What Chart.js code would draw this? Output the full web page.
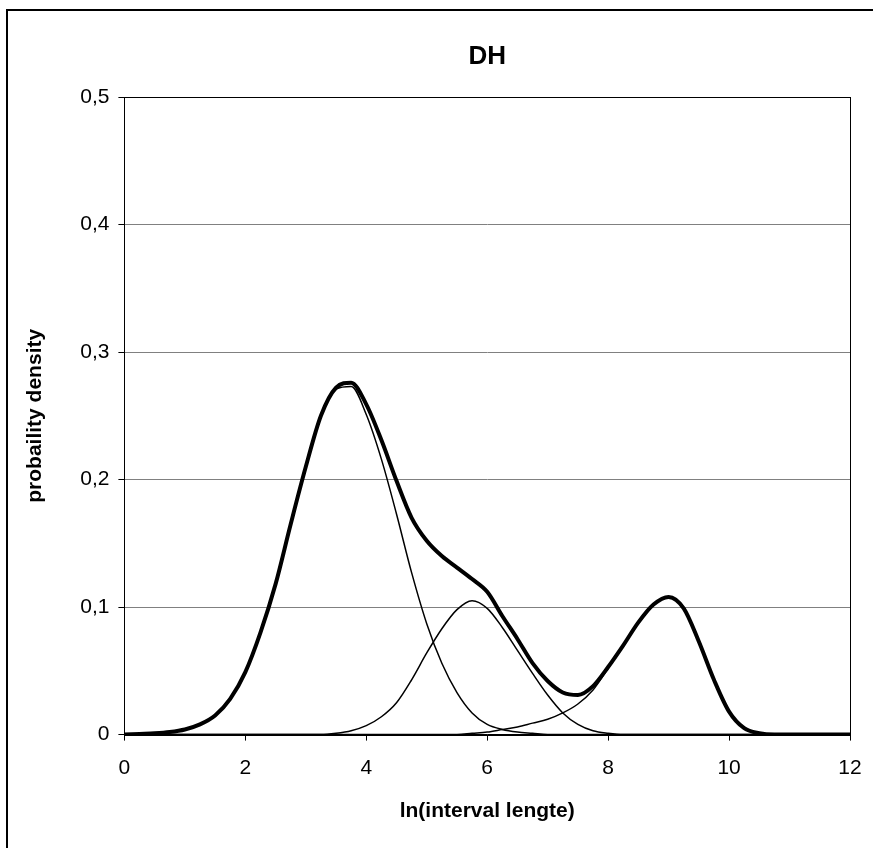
<!DOCTYPE html>
<html lang="nl">
<head>
<meta charset="UTF-8">
<title>DH</title>
<script src="https://cdn.jsdelivr.net/npm/chart.js"></script>
<style>
    body { margin: 0; background: #fff; }
    #wrap { position: relative; width: 873px; height: 848px; }
</style>
</head>
<body>
<div id="wrap"><canvas id="dh" width="873" height="848"></canvas></div>
<script>
// ln(interval lengte) sample positions
const xs = [0, 0.25, 0.5, 0.75, 1, 1.25, 1.5, 1.75, 2, 2.25, 2.5, 2.75, 3, 3.25, 3.5, 3.75,
    4, 4.25, 4.5, 4.75, 5, 5.25, 5.5, 5.75, 6, 6.25, 6.5, 6.75, 7, 7.25, 7.5, 7.75,
    8, 8.25, 8.5, 8.75, 9, 9.25, 9.5, 9.75, 10, 10.25, 10.5, 10.75, 11, 11.25, 11.5, 11.75, 12];

// total mixture density (thick line)
const total = [0, 0.0005, 0.001, 0.002, 0.004, 0.008, 0.015, 0.028, 0.049, 0.08, 0.118, 0.165, 0.21, 0.25, 0.272, 0.276,
    0.259, 0.231, 0.199, 0.17, 0.152, 0.14, 0.131, 0.122, 0.112, 0.093, 0.075, 0.056, 0.042, 0.033, 0.031, 0.038,
    0.053, 0.07, 0.088, 0.102, 0.108, 0.099, 0.073, 0.043, 0.018, 0.005, 0.001, 0, 0, 0, 0, 0, 0];

// components (thin lines)
const comp1 = [0, 0.0005, 0.001, 0.002, 0.004, 0.008, 0.015, 0.028, 0.049, 0.08, 0.118, 0.165, 0.21, 0.25, 0.271, 0.273,
    0.251, 0.216, 0.173, 0.127, 0.087, 0.056, 0.033, 0.017, 0.008, 0.004, 0.002, 0.001, 0, 0, 0, 0,
    0, 0, 0, 0, 0, 0, 0, 0, 0, 0, 0, 0, 0, 0, 0, 0, 0];
const comp2 = [0, 0, 0, 0, 0, 0, 0, 0, 0, 0, 0, 0, 0, 0, 0.001, 0.003,
    0.007, 0.014, 0.025, 0.043, 0.064, 0.083, 0.098, 0.105, 0.099, 0.084, 0.066, 0.048, 0.031, 0.017, 0.008, 0.003,
    0.001, 0, 0, 0, 0, 0, 0, 0, 0, 0, 0, 0, 0, 0, 0, 0, 0];
const comp3 = [0, 0, 0, 0, 0, 0, 0, 0, 0, 0, 0, 0, 0, 0, 0, 0,
    0, 0, 0, 0, 0, 0, 0, 0.001, 0.002, 0.004, 0.006, 0.009, 0.012, 0.017, 0.024, 0.035,
    0.052, 0.07, 0.088, 0.102, 0.108, 0.099, 0.073, 0.043, 0.018, 0.005, 0.001, 0, 0, 0, 0, 0, 0];

const xTicks = [0, 2, 4, 6, 8, 10, 12];
const yTicks = [0, 0.1, 0.2, 0.3, 0.4, 0.5];
const chartTitle = 'DH';

const FONT = 'Arial, "Liberation Sans", sans-serif';
const pts = arr => arr.map((v, i) => ({ x: xs[i], y: v }));
const thin = arr => ({ data: pts(arr), borderColor: '#000', borderWidth: 1.5, pointRadius: 0, cubicInterpolationMode: 'monotone' });

// outer frame, plot-area border and the title (centred over the plot area, like Excel)
const frame = {
    id: 'frame',
    afterDraw(chart) {
        const c = chart.ctx, a = chart.chartArea;
        c.save();
        c.strokeStyle = '#000';
        c.lineWidth = 2;
        c.beginPath();
        c.moveTo(7, 848); c.lineTo(7, 10); c.lineTo(873, 10);
        c.stroke();
        c.lineWidth = 1;
        c.strokeRect(Math.round(a.left) + 0.5, Math.round(a.top) + 0.5, Math.round(a.right - a.left), Math.round(a.bottom - a.top));
        c.fillStyle = '#000';
        c.font = 'bold 26px ' + FONT;
        c.textAlign = 'center';
        c.textBaseline = 'middle';
        c.fillText(chartTitle, (a.left + a.right) / 2, 57);
        c.restore();
    }
};

new Chart(document.getElementById('dh'), {
    type: 'line',
    data: {
        datasets: [
            { data: pts(total), borderColor: '#000', borderWidth: 4, pointRadius: 0, cubicInterpolationMode: 'monotone' },
            thin(comp1),
            thin(comp2),
            thin(comp3)
        ]
    },
    options: {
        responsive: false,
        animation: false,
        layout: { padding: { left: 19, right: 23, top: 97, bottom: 20 } },
        plugins: {
            legend: { display: false },
            tooltip: { enabled: false },
            title: { display: false }
        },
        scales: {
            x: {
                type: 'linear', min: 0, max: 12,
                afterBuildTicks: s => { s.ticks = xTicks.map(v => ({ value: v })); },
                afterFit: s => { s.paddingRight = 0; },
                grid: { drawOnChartArea: false, color: '#000', tickLength: 6 },
                border: { color: '#000' },
                ticks: { color: '#000', font: { family: FONT, size: 21 }, padding: 15, maxRotation: 0 },
                title: { display: true, text: 'ln(interval lengte)', color: '#000', font: { family: FONT, size: 21, weight: 'bold' }, padding: { top: 3 } }
            },
            y: {
                min: 0, max: 0.5,
                afterBuildTicks: s => { s.ticks = yTicks.map(v => ({ value: v })); },
                grid: { color: c => c.tick && c.tick.value === 0.5 ? '#000' : '#808080', tickColor: '#000', tickLength: 6 },
                border: { color: '#000' },
                ticks: {
                    color: '#000', font: { family: FONT, size: 21 }, padding: 9,
                    callback: v => v === 0 ? '0' : v.toFixed(1).replace('.', ',')
                },
                title: { display: true, text: 'probaility density', color: '#000', font: { family: FONT, size: 21, weight: 'bold' }, padding: { bottom: 23 } }
            }
        }
    },
    plugins: [frame]
});
</script>
</body>
</html>
